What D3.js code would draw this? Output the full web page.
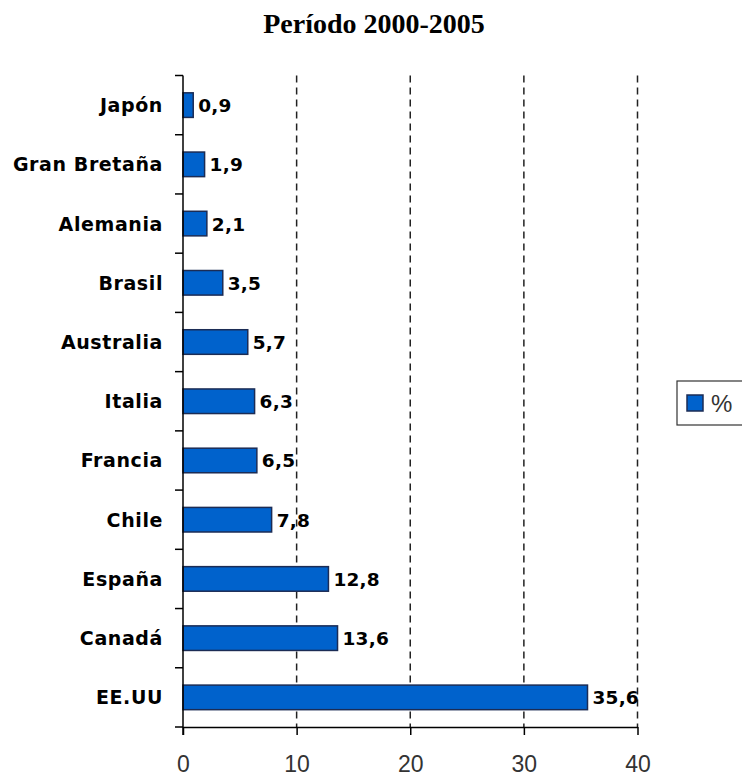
<!DOCTYPE html>
<html>
<head>
<meta charset="utf-8">
<script src="https://cdn.jsdelivr.net/npm/d3@7/dist/d3.min.js"></script>
<style>
  html, body { margin: 0; padding: 0; background: #fff; }
  svg { display: block; }
</style>
</head>
<body>
<svg id="chart" width="742" height="776"></svg>
<script>
const title = "Período 2000-2005";
const categories = ["Japón", "Gran Bretaña", "Alemania", "Brasil", "Australia", "Italia", "Francia", "Chile", "España", "Canadá", "EE.UU"];
const values = [0.9, 1.9, 2.1, 3.5, 5.7, 6.3, 6.5, 7.8, 12.8, 13.6, 35.6];
const valueLabels = ["0,9", "1,9", "2,1", "3,5", "5,7", "6,3", "6,5", "7,8", "12,8", "13,6", "35,6"];
const xTicks = [0, 10, 20, 30, 40];
const seriesName = "%";

(function () {
const svg = d3.select("#chart");
const pL = 183, pR = 637.5, pT = 75.5, pB = 727;
const barColor = "#0062CC", barStroke = "#1b2c55";
const labelFont = "DejaVu Sans, Verdana, sans-serif";

const x = d3.scaleLinear().domain([0, 40]).range([pL, pR]);
const y = d3.scaleBand().domain(categories).range([pT, pB]).paddingInner(0.585).paddingOuter(0.2925);

// title
svg.append("text").attr("x", 374).attr("y", 33).attr("text-anchor", "middle")
  .attr("font-family", "Liberation Serif, Times New Roman, serif").attr("font-weight", "bold")
  .attr("font-size", 28).attr("fill", "#000").text(title);

// gridlines
svg.append("g").selectAll("line").data(xTicks.filter(d => d > 0)).join("line")
  .attr("x1", d => x(d)).attr("x2", d => x(d)).attr("y1", pT).attr("y2", pB)
  .attr("stroke", "#222").attr("stroke-width", 1.5).attr("stroke-dasharray", "7,5");

// bars
svg.append("g").selectAll("rect").data(categories).join("rect")
  .attr("x", x(0)).attr("y", d => y(d))
  .attr("width", (d, i) => x(values[i]) - x(0)).attr("height", y.bandwidth())
  .attr("fill", barColor).attr("stroke", barStroke).attr("stroke-width", 1.5);

// value labels
svg.append("g").selectAll("text").data(categories).join("text")
  .attr("x", (d, i) => x(values[i]) + 5).attr("y", d => y(d) + y.bandwidth() / 2 + 7)
  .attr("font-family", labelFont).attr("font-weight", "bold")
  .attr("font-size", 18.5).attr("letter-spacing", 0.2).attr("fill", "#000")
  .text((d, i) => valueLabels[i]);

// y axis
const yAxisG = svg.append("g");
yAxisG.append("line").attr("x1", pL).attr("x2", pL).attr("y1", pT).attr("y2", pB + 8)
  .attr("stroke", "#000").attr("stroke-width", 1.5);
const boundary = categories.map(c => y(c) + y.bandwidth() / 2 - y.step() / 2).concat([pB]);
yAxisG.selectAll("line.tk").data(boundary).join("line").attr("class", "tk")
  .attr("x1", pL - 8).attr("x2", pL).attr("y1", d => d).attr("y2", d => d)
  .attr("stroke", "#000").attr("stroke-width", 1.5);
yAxisG.selectAll("text").data(categories).join("text")
  .attr("x", 163).attr("y", d => y(d) + y.bandwidth() / 2 + 7)
  .attr("text-anchor", "end")
  .attr("font-family", labelFont).attr("font-weight", "bold")
  .attr("font-size", 19).attr("letter-spacing", 0.6).attr("fill", "#000").text(d => d);

// x axis
const xAxisG = svg.append("g").attr("transform", `translate(0,${pB})`)
  .call(d3.axisBottom(x).tickValues(xTicks).tickSize(8).tickSizeOuter(0).tickPadding(21).tickFormat(d3.format("d")));
xAxisG.select(".domain").attr("stroke", "#000").attr("stroke-width", 1.5);
xAxisG.selectAll(".tick line").attr("stroke", "#000").attr("stroke-width", 1.5);
xAxisG.selectAll(".tick text").attr("font-family", "Liberation Sans, Arial, sans-serif")
  .attr("font-size", 23).attr("fill", "#333");

// legend
const lg = svg.append("g");
lg.append("rect").attr("x", 677).attr("y", 381).attr("width", 70).attr("height", 44)
  .attr("fill", "#fff").attr("stroke", "#333").attr("stroke-width", 1.2);
lg.append("rect").attr("x", 687).attr("y", 395).attr("width", 16).attr("height", 16)
  .attr("fill", barColor).attr("stroke", barStroke).attr("stroke-width", 1.5);
lg.append("text").attr("x", 711).attr("y", 412)
  .attr("font-family", "Liberation Sans, Arial, sans-serif").attr("font-size", 24).attr("fill", "#333").text(seriesName);
})();
</script>
</body>
</html>
